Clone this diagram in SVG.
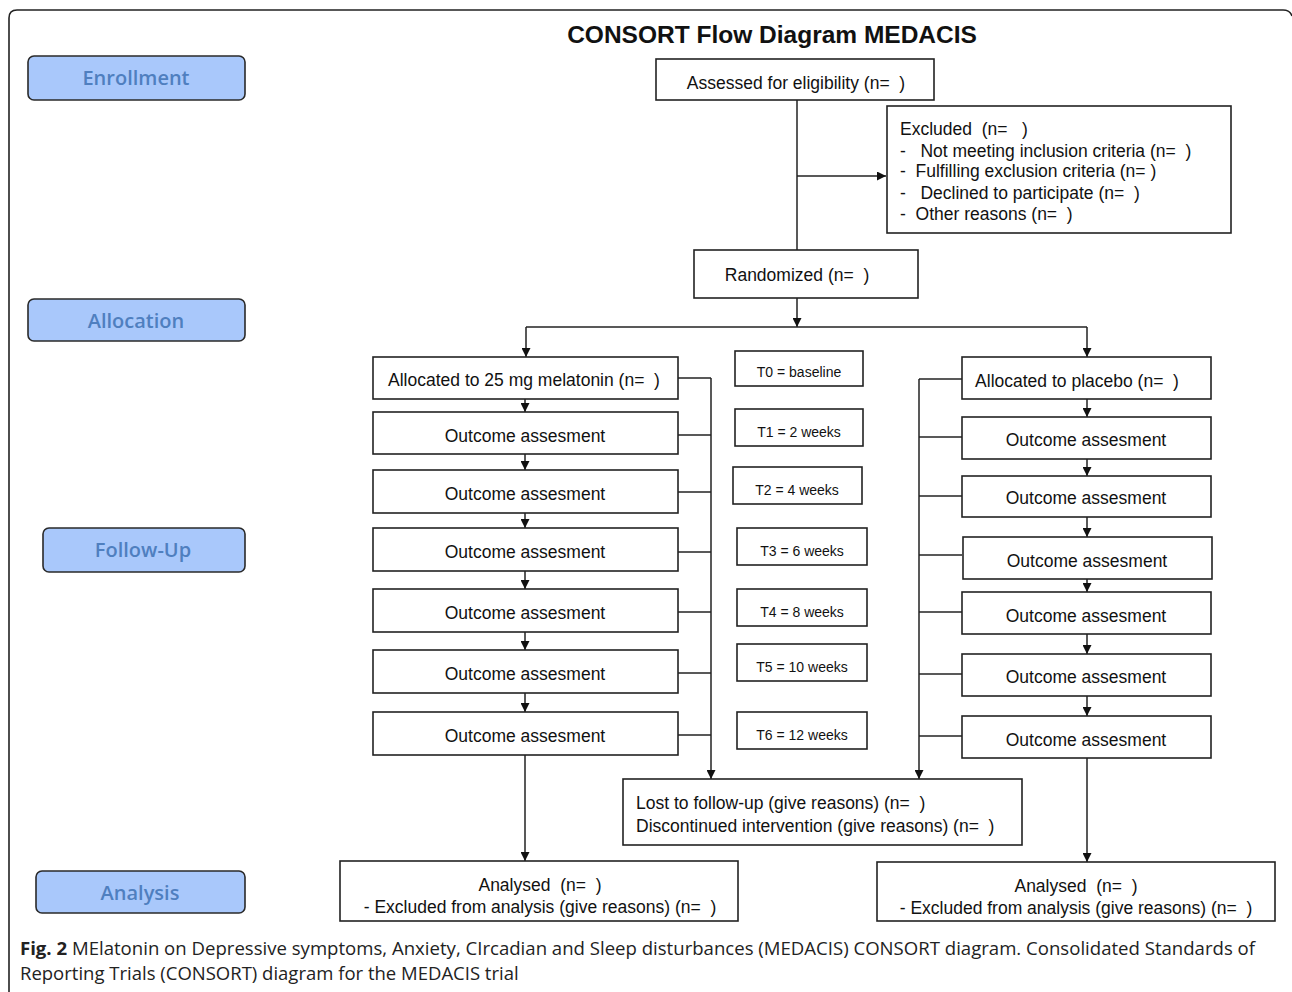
<svg xmlns="http://www.w3.org/2000/svg" width="1292" height="992" viewBox="0 0 1292 992">
<style>
  .bg { fill: #ffffff; }
  .frame { fill: none; stroke: #222; stroke-width: 1.6; }
  .box { fill: #ffffff; stroke: #222; stroke-width: 1.6; }
  .stage { fill: #a9c8fb; stroke: #2a2a2a; stroke-width: 1.6; }
  .stagetxt { font-family: "Open Sans", "Liberation Sans", sans-serif; font-weight: 600; font-size: 20px; fill: #4f7fbf; text-anchor: middle; }
  .t { font-family: "Liberation Sans", Arial, sans-serif; font-size: 17.5px; fill: #111; white-space: pre; }
  .c { text-anchor: middle; }
  .small { font-family: "Liberation Sans", Arial, sans-serif; font-size: 14px; fill: #111; text-anchor: middle; white-space: pre; }
  .title { font-family: "Liberation Sans", Arial, sans-serif; font-size: 24.5px; font-weight: bold; fill: #111; text-anchor: middle; }
  .cap { font-family: "Open Sans", "Liberation Sans", sans-serif; font-size: 18.5px; fill: #222; }
  .ln { fill: none; stroke: #222; stroke-width: 1.5; }
  .arr { fill: none; stroke: #222; stroke-width: 1.5; marker-end: url(#ah); }
</style>
<defs>
  <marker id="ah" viewBox="0 0 10 10" refX="10" refY="5" markerWidth="9" markerHeight="9" orient="auto" markerUnits="userSpaceOnUse">
    <path d="M0,0 L10,5 L0,10 z" fill="#111"/>
  </marker>
</defs>
<rect class="bg" x="0" y="0" width="1292" height="992"/>
<path class="frame" d="M9,992 V18 Q9,10 17,10 H1283 Q1290,10 1292,16"/>

<text class="title" x="772" y="43">CONSORT Flow Diagram MEDACIS</text>

<g id="stage-enrollment"><rect class="stage" x="28" y="56" width="217" height="44" rx="6"/><text class="stagetxt" x="136" y="85">Enrollment</text></g>
<g id="stage-allocation"><rect class="stage" x="28" y="299" width="217" height="42" rx="6"/><text class="stagetxt" x="136" y="328">Allocation</text></g>
<g id="stage-followup"><rect class="stage" x="43" y="528" width="202" height="44" rx="6"/><text class="stagetxt" x="143" y="557">Follow-Up</text></g>
<g id="stage-analysis"><rect class="stage" x="36" y="871" width="209" height="42" rx="6"/><text class="stagetxt" x="140" y="900">Analysis</text></g>

<g id="connectors">
  <path class="ln" d="M797,100 V250"/>
  <path class="arr" d="M797,176 H886"/>
  <path class="arr" d="M797,298 V327"/>
  <path class="ln" d="M526,327 H1087"/>
  <path class="arr" d="M526,327 V357"/>
  <path class="arr" d="M1087,327 V357"/>
  <!-- left chain -->
  <path class="arr" d="M525,399 V412"/>
  <path class="arr" d="M525,454 V470"/>
  <path class="arr" d="M525,513 V528"/>
  <path class="arr" d="M525,571 V589"/>
  <path class="arr" d="M525,632 V650"/>
  <path class="arr" d="M525,693 V712"/>
  <path class="arr" d="M525,755 V861"/>
  <!-- right chain -->
  <path class="arr" d="M1087,399 V417"/>
  <path class="arr" d="M1087,459 V476"/>
  <path class="arr" d="M1087,517 V537"/>
  <path class="arr" d="M1087,579 V592"/>
  <path class="arr" d="M1087,634 V654"/>
  <path class="arr" d="M1087,696 V716"/>
  <path class="arr" d="M1087,758 V862"/>
  <!-- left bracket -->
  <path class="ln" d="M678,378 H711"/>
  <path class="ln" d="M678,435 H711"/>
  <path class="ln" d="M678,492 H711"/>
  <path class="ln" d="M678,552 H711"/>
  <path class="ln" d="M678,612 H711"/>
  <path class="ln" d="M678,673 H711"/>
  <path class="ln" d="M678,735 H711"/>
  <path class="arr" d="M711,378 V779"/>
  <!-- right bracket -->
  <path class="ln" d="M962,379 H919"/>
  <path class="ln" d="M962,437 H919"/>
  <path class="ln" d="M962,496 H919"/>
  <path class="ln" d="M962,555 H919"/>
  <path class="ln" d="M962,612 H919"/>
  <path class="ln" d="M962,674 H919"/>
  <path class="ln" d="M962,736 H919"/>
  <path class="arr" d="M919,379 V779"/>
</g>

<g id="assessed"><rect class="box" x="656" y="59" width="278" height="41"/><text class="t c" x="796" y="89">Assessed for eligibility (n=  )</text></g>
<g id="excluded"><rect class="box" x="887" y="106" width="344" height="127"/>
  <text class="t" x="900" y="135">Excluded  (n=   )</text>
  <text class="t" x="900" y="157">-   Not meeting inclusion criteria (n=  )</text>
  <text class="t" x="900" y="177">-  Fulfilling exclusion criteria (n= )</text>
  <text class="t" x="900" y="199">-   Declined to participate (n=  )</text>
  <text class="t" x="900" y="220">-  Other reasons (n=  )</text>
</g>
<g id="randomized"><rect class="box" x="694" y="250" width="224" height="48"/><text class="t c" x="797" y="281">Randomized (n=  )</text></g>

<g id="alloc-mel"><rect class="box" x="373" y="357" width="305" height="42"/><text class="t c" x="524" y="386">Allocated to 25 mg melatonin (n=  )</text></g>
<g id="mel-o1"><rect class="box" x="373" y="412" width="305" height="42"/><text class="t c" x="525" y="442">Outcome assesment</text></g>
<g id="mel-o2"><rect class="box" x="373" y="470" width="305" height="43"/><text class="t c" x="525" y="500">Outcome assesment</text></g>
<g id="mel-o3"><rect class="box" x="373" y="528" width="305" height="43"/><text class="t c" x="525" y="558">Outcome assesment</text></g>
<g id="mel-o4"><rect class="box" x="373" y="589" width="305" height="43"/><text class="t c" x="525" y="619">Outcome assesment</text></g>
<g id="mel-o5"><rect class="box" x="373" y="650" width="305" height="43"/><text class="t c" x="525" y="680">Outcome assesment</text></g>
<g id="mel-o6"><rect class="box" x="373" y="712" width="305" height="43"/><text class="t c" x="525" y="742">Outcome assesment</text></g>

<g id="t0"><rect class="box" x="735" y="351" width="128" height="35"/><text class="small" x="799" y="377">T0 = baseline</text></g>
<g id="t1"><rect class="box" x="735" y="409" width="128" height="37"/><text class="small" x="799" y="437">T1 = 2 weeks</text></g>
<g id="t2"><rect class="box" x="733" y="467" width="129" height="37"/><text class="small" x="797" y="495">T2 = 4 weeks</text></g>
<g id="t3"><rect class="box" x="737" y="528" width="130" height="37"/><text class="small" x="802" y="556">T3 = 6 weeks</text></g>
<g id="t4"><rect class="box" x="737" y="589" width="130" height="37"/><text class="small" x="802" y="617">T4 = 8 weeks</text></g>
<g id="t5"><rect class="box" x="737" y="644" width="130" height="37"/><text class="small" x="802" y="672">T5 = 10 weeks</text></g>
<g id="t6"><rect class="box" x="737" y="712" width="130" height="37"/><text class="small" x="802" y="740">T6 = 12 weeks</text></g>

<g id="alloc-pla"><rect class="box" x="962" y="357" width="249" height="42"/><text class="t c" x="1077" y="387">Allocated to placebo (n=  )</text></g>
<g id="pla-o1"><rect class="box" x="962" y="417" width="249" height="42"/><text class="t c" x="1086" y="446">Outcome assesment</text></g>
<g id="pla-o2"><rect class="box" x="962" y="476" width="249" height="41"/><text class="t c" x="1086" y="504">Outcome assesment</text></g>
<g id="pla-o3"><rect class="box" x="963" y="537" width="249" height="42"/><text class="t c" x="1087" y="567">Outcome assesment</text></g>
<g id="pla-o4"><rect class="box" x="962" y="592" width="249" height="42"/><text class="t c" x="1086" y="622">Outcome assesment</text></g>
<g id="pla-o5"><rect class="box" x="962" y="654" width="249" height="42"/><text class="t c" x="1086" y="683">Outcome assesment</text></g>
<g id="pla-o6"><rect class="box" x="962" y="716" width="249" height="42"/><text class="t c" x="1086" y="746">Outcome assesment</text></g>

<g id="lost"><rect class="box" x="623" y="779" width="399" height="66"/>
  <text class="t" x="636" y="809">Lost to follow-up (give reasons) (n=  )</text>
  <text class="t" x="636" y="832">Discontinued intervention (give reasons) (n=  )</text>
</g>
<g id="analysed-mel"><rect class="box" x="340" y="861" width="398" height="60"/>
  <text class="t c" x="540" y="891">Analysed  (n=  )</text>
  <text class="t c" x="540" y="913">- Excluded from analysis (give reasons) (n=  )</text>
</g>
<g id="analysed-pla"><rect class="box" x="877" y="862" width="398" height="59"/>
  <text class="t c" x="1076" y="892">Analysed  (n=  )</text>
  <text class="t c" x="1076" y="914">- Excluded from analysis (give reasons) (n=  )</text>
</g>

<text class="cap" x="20" y="955" textLength="1235" lengthAdjust="spacingAndGlyphs"><tspan font-weight="bold">Fig. 2</tspan> MElatonin on Depressive symptoms, Anxiety, CIrcadian and Sleep disturbances (MEDACIS) CONSORT diagram. Consolidated Standards of</text>
<text class="cap" x="20" y="980">Reporting Trials (CONSORT) diagram for the MEDACIS trial</text>
</svg>
